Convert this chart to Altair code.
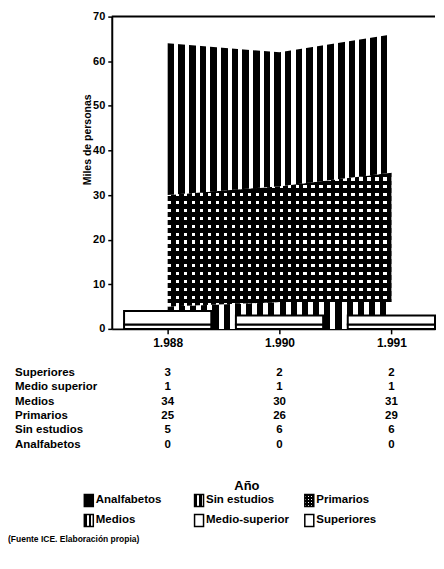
import altair as alt
import pandas as pd

# ---- data ----
years = ["1.988", "1.990", "1.991"]
superiores = [3, 2, 2]
medio_superior = [1, 1, 1]
medios = [34, 30, 31]
primarios = [25, 26, 29]
sin_estudios = [5, 6, 6]
analfabetos = [0, 0, 0]

row_labels = ["Superiores", "Medio superior", "Medios", "Primarios", "Sin estudios", "Analfabetos"]
legend_labels = ["Analfabetos", "Sin estudios", "Primarios", "Medios", "Medio-superior", "Superiores"]
legend_patterns = ["solid", "stripes", "dots", "stripes", "blank", "blank"]
y_title = "Miles de personas"
x_title = "Año"
source_note = "(Fuente ICE. Elaboración propia)"
y_ticks = [0, 10, 20, 30, 40, 50, 60, 70]

FONT = "Liberation Sans"

wide = pd.DataFrame({
    "i": list(range(len(years))),
    "year": years,
    "sup": superiores,
    "msup": medio_superior,
    "med": medios,
    "pri": primarios,
    "se": sin_estudios,
    "an": analfabetos,
})

table_df = pd.DataFrame([
    {"label": lab, "i": k, "v": str(vals[k])}
    for lab, vals in zip(row_labels, [superiores, medio_superior, medios, primarios, sin_estudios, analfabetos])
    for k in range(len(years))
])
row_df = pd.DataFrame({"label": row_labels})

legend_df = pd.DataFrame({
    "name": legend_labels,
    "pattern": legend_patterns,
    "col": [k % 3 for k in range(len(legend_labels))],
    "row": [k // 3 for k in range(len(legend_labels))],
})


def stripes(n, first, second, frac, horizontal=False):
    stops = []
    for k in range(n):
        a = k / n
        b = (k + frac) / n
        c = (k + 1) / n
        stops += [
            alt.GradientStop(offset=a, color=first),
            alt.GradientStop(offset=b, color=first),
            alt.GradientStop(offset=b, color=second),
            alt.GradientStop(offset=c, color=second),
        ]
    if horizontal:
        return alt.LinearGradient(gradient="linear", stops=stops, x1=0, x2=0, y1=0, y2=1)
    return alt.LinearGradient(gradient="linear", stops=stops, x1=0, x2=1, y1=0, y2=0)


x_domain = [-0.5, 2.39]
x_axis = alt.Axis(
    values=list(range(len(years))),
    labelExpr="[" + ",".join("'" + y + "'" for y in years) + "][datum.value]",
    title=x_title, titleX=135, titleY=157, titleFontSize=13, titleFontWeight="bold",
    titleBaseline="middle", titleFont=FONT,
    tickSize=5, labelPadding=4, labelFontSize=12, grid=False,
)
y_axis = alt.Axis(
    values=y_ticks, title=y_title, titleX=-24, titleY=123, titleFontSize=10.5,
    titleFontWeight="bold", titleFont=FONT, titleBaseline="middle",
    tickSize=4, labelPadding=3, labelFontSize=11, grid=False,
)
X = alt.X("i:Q", scale=alt.Scale(domain=x_domain, nice=False, zero=False), axis=x_axis, title=x_title)
Y_SCALE = alt.Scale(domain=[0, 70], nice=False)

base = alt.Chart(wide).transform_calculate(
    se_lo="datum.an",
    se_hi="datum.an + datum.se",
    pri_hi="datum.an + datum.se + datum.pri",
    med_hi="datum.an + datum.se + datum.pri + datum.med",
    xl="datum.i - 0.39",
    xr="datum.i + 0.39",
    b1="datum.msup",
    b2="datum.msup + datum.sup",
)

def yenc(field):
    return alt.Y(field + ":Q", scale=Y_SCALE, axis=y_axis, title=y_title)

se_area = base.mark_area(fill=stripes(20, "black", "white", 0.55)).encode(
    x=X, y=yenc("se_lo"), y2="se_hi:Q")
pri_area = base.mark_area(fill=stripes(28, "white", "black", 0.4)).encode(
    x=X, y=yenc("se_hi"), y2="pri_hi:Q")
pri_dots = base.mark_area(fill=stripes(17, "black", "rgba(0,0,0,0)", 0.6, horizontal=True)).encode(
    x=X, y=yenc("se_hi"), y2="pri_hi:Q")
med_area = base.mark_area(fill=stripes(21, "black", "white", 0.62)).encode(
    x=X, y=yenc("pri_hi"), y2="med_hi:Q")

bars_ms = base.mark_rect(fill="white", stroke="black", strokeWidth=2).encode(
    x=alt.X("xl:Q", scale=alt.Scale(domain=x_domain, nice=False, zero=False), axis=x_axis, title=x_title),
    x2="xr:Q", y=yenc("se_lo"), y2="b1:Q")
bars_s = base.mark_rect(fill="white", stroke="black", strokeWidth=2).encode(
    x=alt.X("xl:Q", scale=alt.Scale(domain=x_domain, nice=False, zero=False), axis=x_axis, title=x_title),
    x2="xr:Q", y=yenc("b1"), y2="b2:Q")

top_rule = alt.Chart(pd.DataFrame({"top": [y_ticks[-1]]})).mark_rule(
    color="black", strokeWidth=2).encode(y=yenc("top"))

main = alt.layer(se_area, pri_area, pri_dots, med_area, bars_ms, bars_s, top_rule)

# ---- table under the axis ----
ROW_Y = alt.Y("label:N", scale=alt.Scale(type="point", domain=row_labels, range=[357, 429], padding=0), axis=None)
table_vals = alt.Chart(table_df).mark_text(
    font=FONT, fontWeight="bold", fontSize=11.5, baseline="middle", align="center", color="black"
).encode(
    x=alt.X("i:Q", scale=alt.Scale(domain=x_domain, nice=False, zero=False), axis=None),
    y=ROW_Y, text="v:N")
table_rows = alt.Chart(row_df).mark_text(
    font=FONT, fontWeight="bold", fontSize=11.5, baseline="middle", align="left", color="black"
).encode(x=alt.value(-97), y=ROW_Y, text="label:N")
table = alt.layer(table_vals, table_rows)

# ---- legend ----
LX = alt.X("col:O", scale=alt.Scale(type="point", domain=[0, 1, 2], range=[-23, 198], padding=0), axis=None)
LY = alt.Y("row:O", scale=alt.Scale(type="point", domain=[0, 1], range=[485, 505], padding=0), axis=None)
SHAPE = "M-0.75,-1L0.75,-1L0.75,1L-0.75,1Z"

def legend_symbol(pattern, fill):
    return alt.Chart(legend_df).transform_filter(alt.datum.pattern == pattern).mark_point(
        shape=SHAPE, size=144, filled=True, fill=fill, stroke="black", strokeWidth=1.5, opacity=1
    ).encode(x=LX, y=LY)

leg_solid = legend_symbol("solid", "black")
leg_stripes = legend_symbol("stripes", stripes(2, "black", "white", 0.55))
leg_dots_a = legend_symbol("dots", stripes(3, "white", "black", 0.4))
leg_dots_b = alt.Chart(legend_df).transform_filter(alt.datum.pattern == "dots").mark_point(
    shape=SHAPE, size=144, filled=True, fill=stripes(4, "black", "rgba(0,0,0,0)", 0.6, horizontal=True),
    strokeWidth=0, opacity=1).encode(x=LX, y=LY)
leg_blank = legend_symbol("blank", "white")
leg_text = alt.Chart(legend_df).mark_text(
    font=FONT, fontWeight="bold", fontSize=11.5, align="left", baseline="middle", dx=7, color="black"
).encode(x=LX, y=LY, text="name:N")
legend = alt.layer(leg_solid, leg_stripes, leg_dots_a, leg_dots_b, leg_blank, leg_text)

source = alt.Chart(pd.DataFrame({"t": [source_note]})).mark_text(
    font=FONT, fontWeight="bold", fontSize=8.5, align="left", baseline="middle", color="black"
).encode(x=alt.value(-104), y=alt.value(524), text="t:N")

chart = alt.layer(main, table, legend, source).resolve_scale(
    x="independent", y="independent"
).properties(
    width=324, height=313,
    padding={"left": 0, "top": 2, "right": 0, "bottom": 0},
    background="white",
).configure_view(stroke=None).configure_axis(
    domainColor="black", domainWidth=2, tickColor="black", tickWidth=1.5,
    labelFont=FONT, labelFontWeight="bold", labelColor="black", titleColor="black",
)

chart.save("out.html", embed_options={"renderer": "svg", "actions": False})
